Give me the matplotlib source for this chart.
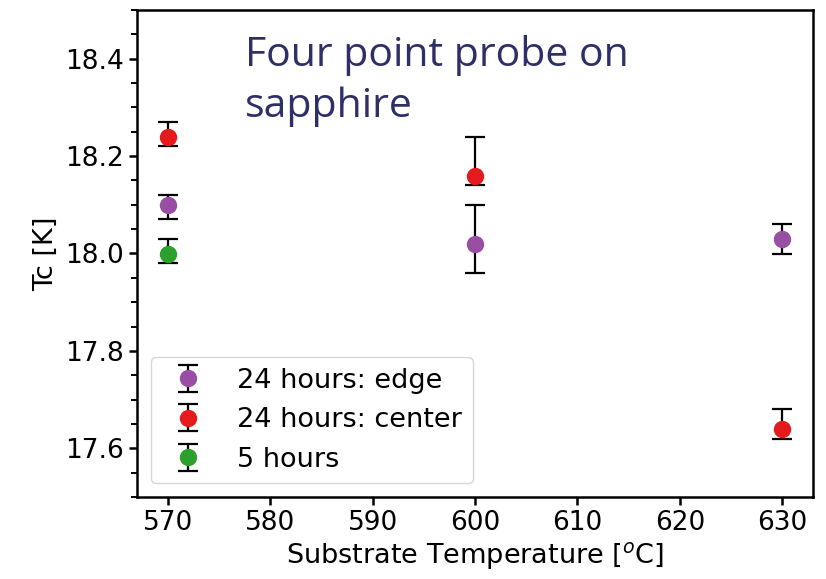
import matplotlib.pyplot as plt
from matplotlib.ticker import MultipleLocator

# Données
temps_edge = [570, 600, 630]
tc_edge = [18.10, 18.02, 18.03]
err_edge_low = [0.03, 0.06, 0.03]
err_edge_high = [0.02, 0.08, 0.03]

temps_center = [570, 600, 630]
tc_center = [18.24, 18.16, 17.64]
err_center_low = [0.02, 0.02, 0.02]
err_center_high = [0.03, 0.08, 0.04]

temps_5h = [570]
tc_5h = [18.00]
err_5h_low = [0.02]
err_5h_high = [0.03]

labels = ["24 hours: edge", "24 hours: center", "5 hours"]
colors = ["#984ea3", "#e41a1c", "#2ca02c"]

plt.rcParams['font.size'] = 19.5

fig = plt.figure(figsize=(8.26, 5.79), dpi=100)
ax = fig.add_axes([137 / 826, 1 - 497 / 579, 676 / 826, 487 / 579])

series = [
    (temps_edge, tc_edge, err_edge_low, err_edge_high),
    (temps_center, tc_center, err_center_low, err_center_high),
    (temps_5h, tc_5h, err_5h_low, err_5h_high),
]
for (x, y, lo, hi), lab, col in zip(series, labels, colors):
    ax.errorbar(x, y, yerr=[lo, hi], fmt='o', color=col, ecolor='black',
                markersize=11.5, elinewidth=1.6, capsize=7, capthick=1.6,
                label=lab)

ax.set_xlim(567, 633)
ax.set_ylim(17.5, 18.5)
ax.yaxis.set_major_locator(MultipleLocator(0.2))
ax.yaxis.set_minor_locator(MultipleLocator(0.05))
ax.xaxis.set_major_locator(MultipleLocator(10))

for s in ax.spines.values():
    s.set_linewidth(1.8)
ax.tick_params(which='major', length=6, width=1.8, labelsize=19)
ax.tick_params(which='minor', length=4, width=1.4)

ax.set_xlabel("Substrate Temperature [$^o$C]", labelpad=3)
ax.set_ylabel("Tc [K]")

ax.legend(loc='lower left', fontsize=19.5, borderaxespad=0.5)

# Annotation de la diapositive
fig.text(245 / 826, 1 - 117 / 579, "Four point probe on\nsapphire",
         fontsize=29.5, family='Open Sans', color='#2e2f66',
         va='baseline', linespacing=1.35)

plt.savefig("out.png", dpi=100)
